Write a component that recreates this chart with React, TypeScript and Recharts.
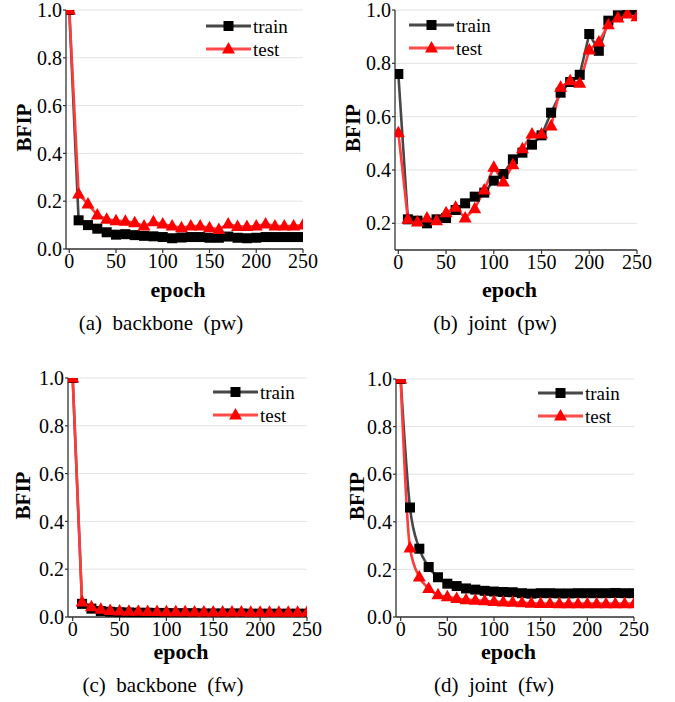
import React from 'react';
import { LineChart, Line, XAxis, YAxis, CartesianGrid, Legend } from 'recharts';

const FONT = '"Liberation Serif", "Times New Roman", Times, serif';

const epochs = [0, 10, 20, 30, 40, 50, 60, 70, 80, 90, 100, 110, 120, 130, 140, 150, 160, 170, 180, 190, 200, 210, 220, 230, 240, 250];

const backbonePwTrain = [1.0, 0.12, 0.10, 0.085, 0.07, 0.06, 0.062, 0.058, 0.055, 0.053, 0.05, 0.045, 0.048, 0.05, 0.05, 0.047, 0.047, 0.052, 0.047, 0.045, 0.047, 0.05, 0.05, 0.05, 0.05, 0.05];
const backbonePwTest = [1.0, 0.23, 0.188, 0.142, 0.125, 0.118, 0.116, 0.11, 0.096, 0.114, 0.105, 0.096, 0.089, 0.096, 0.096, 0.089, 0.082, 0.105, 0.094, 0.094, 0.096, 0.105, 0.096, 0.096, 0.096, 0.1];

const jointPwTrain = [0.76, 0.215, 0.21, 0.2, 0.215, 0.22, 0.25, 0.275, 0.3, 0.315, 0.36, 0.385, 0.44, 0.465, 0.495, 0.53, 0.615, 0.69, 0.73, 0.757, 0.91, 0.847, 0.96, 0.98, 1.0, 1.0];
const jointPwTest = [0.54, 0.215, 0.205, 0.22, 0.21, 0.24, 0.26, 0.22, 0.255, 0.325, 0.41, 0.355, 0.42, 0.48, 0.535, 0.535, 0.565, 0.71, 0.735, 0.725, 0.85, 0.88, 0.945, 0.97, 0.985, 0.975];

const backboneFwTrain = [1.0, 0.055, 0.035, 0.025, 0.022, 0.02, 0.019, 0.018, 0.018, 0.017, 0.017, 0.016, 0.016, 0.016, 0.015, 0.015, 0.015, 0.015, 0.015, 0.014, 0.014, 0.014, 0.014, 0.014, 0.014, 0.014];
const backboneFwTest = [1.0, 0.063, 0.043, 0.032, 0.027, 0.025, 0.024, 0.024, 0.023, 0.023, 0.022, 0.022, 0.022, 0.021, 0.021, 0.021, 0.021, 0.021, 0.021, 0.02, 0.02, 0.02, 0.02, 0.02, 0.02, 0.02];

const jointFwTrain = [1.0, 0.46, 0.287, 0.21, 0.167, 0.14, 0.13, 0.12, 0.115, 0.11, 0.107, 0.105, 0.104, 0.1, 0.098, 0.1, 0.1, 0.099, 0.099, 0.1, 0.1, 0.1, 0.1, 0.101, 0.1, 0.1];
const jointFwTest = [1.0, 0.29, 0.168, 0.12, 0.093, 0.085, 0.078, 0.073, 0.07, 0.068, 0.065, 0.063, 0.062, 0.06, 0.058, 0.057, 0.057, 0.056, 0.056, 0.056, 0.056, 0.056, 0.056, 0.056, 0.056, 0.056];

const xTicks = [0, 50, 100, 150, 200, 250];
const yTicksFull = [0, 0.2, 0.4, 0.6, 0.8, 1.0];
const yTicksJointPw = [0.2, 0.4, 0.6, 0.8, 1.0];

const seriesNames = ['train', 'test'];
const captions = ['(a)  backbone  (pw)', '(b)  joint  (pw)', '(c)  backbone  (fw)', '(d)  joint  (fw)'];

const build = (train: number[], test: number[]) =>
  epochs.map((e, i) => ({ epoch: e, train: train[i], test: test[i] }));

const TRAIN_LINE = '#474747';
const TEST_LINE = '#ff3b3b';
const AXIS = '#333';

function SquareDot(props: any) {
  const { cx, cy } = props;
  if (cx == null || cy == null) return <g />;
  return <rect x={cx - 5} y={cy - 5} width={10} height={10} fill="#000" />;
}

function TriDot(props: any) {
  const { cx, cy } = props;
  if (cx == null || cy == null) return <g />;
  return <polygon points={`${cx},${cy - 7} ${cx - 6.5},${cy + 4.5} ${cx + 6.5},${cy + 4.5}`} fill="#ff0000" />;
}

function renderLegend(props: any) {
  const payload = [...(props.payload || [])].sort(
    (a: any, b: any) => seriesNames.indexOf(a.value) - seriesNames.indexOf(b.value)
  );
  return (
    <svg width={110} height={48} style={{ display: 'block', overflow: 'visible' }}>
      {payload.map((entry: any, i: number) => {
        const y = 12 + i * 23;
        const isTrain = entry.value === 'train';
        return (
          <g key={entry.value}>
            <line x1={0} y1={y} x2={45} y2={y} stroke={isTrain ? TRAIN_LINE : '#ff4a4a'} strokeWidth={3} />
            {isTrain ? (
              <rect x={17.5} y={y - 5} width={10} height={10} fill="#000" />
            ) : (
              <polygon points={`22.5,${y - 7} 16,${y + 4.5} 29,${y + 4.5}`} fill="#ff0000" />
            )}
            <text x={47} y={y} dominantBaseline="central" fontSize={19} fontFamily={FONT} fill="#000">
              {entry.value}
            </text>
          </g>
        );
      })}
    </svg>
  );
}

type PanelCfg = {
  data: any[];
  left: number;
  top: number;
  margin: { top: number; right: number; bottom: number; left: number };
  yWidth: number;
  xHeight: number;
  xDomain: [number, number];
  yDomain: [number, number];
  yTicks: number[];
  yLabelX: number;
  xLabelDy: number;
  legendLeft: number;
  legendTop: number;
  curve: 'linear' | 'monotone';
};

const CHART_W = 335;
const CHART_H = 305;

const panels: PanelCfg[] = [
  {
    data: build(backbonePwTrain, backbonePwTest), left: 0, top: 0,
    margin: { top: 10, right: 32, bottom: 0, left: 0 }, yWidth: 66, xHeight: 56,
    xDomain: [-3.5, 250], yDomain: [0, 1], yTicks: yTicksFull, yLabelX: 24, xLabelDy: 48,
    legendLeft: 206, legendTop: 14, curve: 'linear',
  },
  {
    data: build(jointPwTrain, jointPwTest), left: 335, top: 0,
    margin: { top: 10, right: 33, bottom: 0, left: 0 }, yWidth: 60, xHeight: 55,
    xDomain: [-3.5, 250], yDomain: [0.1, 1], yTicks: yTicksJointPw, yLabelX: 18, xLabelDy: 47,
    legendLeft: 74, legendTop: 13, curve: 'linear',
  },
  {
    data: build(backboneFwTrain, backboneFwTest), left: 0, top: 360,
    margin: { top: 18, right: 28, bottom: 0, left: 0 }, yWidth: 68, xHeight: 48,
    xDomain: [-5, 250], yDomain: [0, 1], yTicks: yTicksFull, yLabelX: 23, xLabelDy: 42,
    legendLeft: 213, legendTop: 20, curve: 'linear',
  },
  {
    data: build(jointFwTrain, jointFwTest), left: 335, top: 360,
    margin: { top: 19, right: 36, bottom: 0, left: 0 }, yWidth: 61, xHeight: 48,
    xDomain: [-5, 250], yDomain: [0, 1], yTicks: yTicksFull, yLabelX: 22, xLabelDy: 42,
    legendLeft: 203, legendTop: 21, curve: 'monotone',
  },
];

const tickStyle = { fontSize: 20, fill: '#000', fontFamily: FONT };

function Panel({ cfg }: { cfg: PanelCfg }) {
  const yLabel = (p: any) => {
    const vb = p.viewBox || { x: 0, y: 0, width: 0, height: 0 };
    const cx = vb.x + cfg.yLabelX;
    const cy = vb.y + vb.height / 2 - 2;
    return (
      <text x={cx} y={cy} transform={`rotate(-90 ${cx} ${cy})`} textAnchor="middle" dominantBaseline="central"
        fontSize={21} fontWeight="bold" fontFamily={FONT} fill="#000">BFIP</text>
    );
  };
  const xLabel = (p: any) => {
    const vb = p.viewBox || { x: 0, y: 0, width: 0, height: 0 };
    const cx = vb.x + vb.width / 2 - 6.5;
    const cy = vb.y + cfg.xLabelDy;
    return (
      <text x={cx} y={cy} textAnchor="middle" fontSize={22} fontWeight="bold" fontFamily={FONT} fill="#000">epoch</text>
    );
  };
  return (
    <div style={{ position: 'absolute', left: cfg.left, top: cfg.top }}>
      <LineChart width={CHART_W} height={CHART_H} data={cfg.data} margin={cfg.margin}>
        <CartesianGrid vertical={false} stroke="#e3e3e3" strokeWidth={1} />
        <XAxis dataKey="epoch" type="number" domain={cfg.xDomain} ticks={xTicks} interval={0} allowDataOverflow
          height={cfg.xHeight} tick={tickStyle} tickSize={4} tickMargin={1}
          axisLine={{ stroke: AXIS, strokeWidth: 1.3 }} tickLine={{ stroke: AXIS, strokeWidth: 1.2 }}
          label={xLabel} />
        <XAxis xAxisId="top" orientation="top" dataKey="epoch" type="number" domain={cfg.xDomain} allowDataOverflow
          height={0} tick={false} tickLine={false} axisLine={{ stroke: AXIS, strokeWidth: 1.3 }} />
        <YAxis type="number" domain={cfg.yDomain} ticks={cfg.yTicks} interval={0} allowDataOverflow width={cfg.yWidth}
          tick={tickStyle} tickFormatter={(v: number) => v.toFixed(1)} tickSize={3} tickMargin={1}
          axisLine={{ stroke: AXIS, strokeWidth: 1.3 }} tickLine={{ stroke: AXIS, strokeWidth: 1.2 }}
          label={yLabel} />
        <YAxis yAxisId="right" orientation="right" type="number" domain={cfg.yDomain} allowDataOverflow width={0}
          tick={false} tickLine={false} axisLine={{ stroke: AXIS, strokeWidth: 1.3 }} />
        <Legend layout="vertical" align="center" verticalAlign="middle" content={renderLegend}
          wrapperStyle={{ left: cfg.legendLeft, top: cfg.legendTop, width: 110, height: 48 }} />
        <Line name={seriesNames[0]} dataKey="train" type={cfg.curve} stroke={TRAIN_LINE} strokeWidth={2.6}
          dot={SquareDot} activeDot={false} isAnimationActive={false} />
        <Line name={seriesNames[1]} dataKey="test" type={cfg.curve} stroke={TEST_LINE} strokeWidth={2.6}
          dot={TriDot} activeDot={false} isAnimationActive={false} />
      </LineChart>
    </div>
  );
}

const captionPos = [
  { cx: 161, top: 311 },
  { cx: 495, top: 311 },
  { cx: 163, top: 673 },
  { cx: 494, top: 673 },
];

export default function App() {
  return (
    <div style={{ position: 'absolute', left: 0, top: 0, width: 675, height: 702, background: '#fff', overflow: 'hidden' }}>
      {panels.map((p, i) => (
        <Panel key={i} cfg={p} />
      ))}
      {captions.map((c, i) => (
        <div key={c} style={{
          position: 'absolute', left: captionPos[i].cx - 150, top: captionPos[i].top, width: 300,
          textAlign: 'center', fontFamily: FONT, fontSize: 21, lineHeight: '24px', color: '#000', whiteSpace: 'pre',
        }}>{c}</div>
      ))}
    </div>
  );
}
